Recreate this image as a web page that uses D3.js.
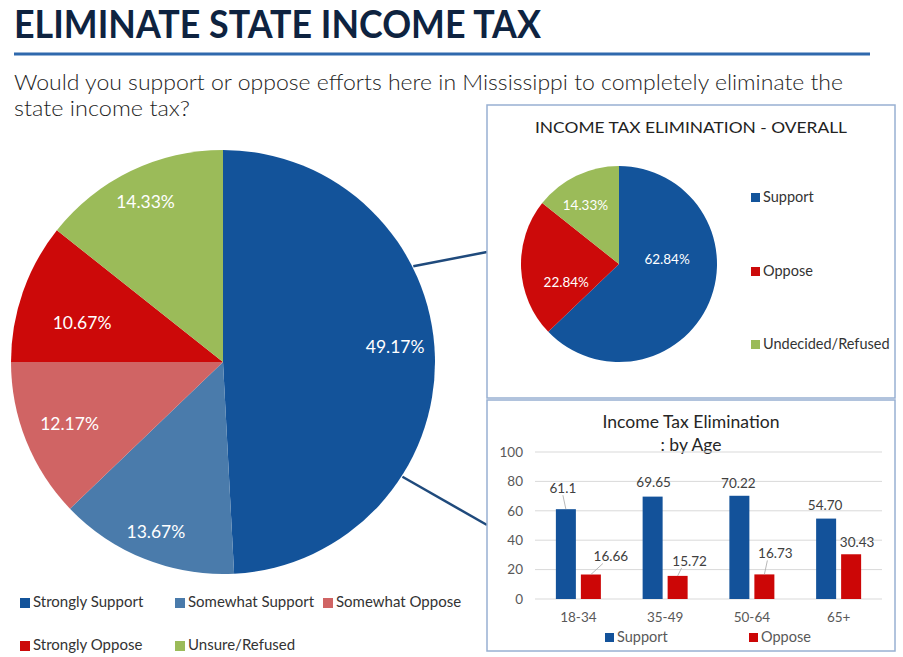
<!DOCTYPE html>
<html>
<head>
<meta charset="utf-8">
<script src="https://cdn.jsdelivr.net/npm/d3@7"></script>
<style>
  body { margin: 0; background: #fff; }
  svg { display: block; font-family: Lato, "Open Sans", sans-serif; }
</style>
</head>
<body>
<svg id="chart" width="903" height="657"></svg>
<script>
// main pie (5 answers)
var mainCats = ["Strongly Support", "Somewhat Support", "Somewhat Oppose", "Strongly Oppose", "Unsure/Refused"];
var mainValues = [49.17, 13.67, 12.17, 10.67, 14.33];
// overall pie
var overallCats = ["Support", "Oppose", "Undecided/Refused"];
var overallValues = [62.84, 22.84, 14.33];
// by age bars
var ageGroups = ["18-34", "35-49", "50-64", "65+"];
var supportByAge = [61.1, 69.65, 70.22, 54.70];
var opposeByAge = [16.66, 15.72, 16.73, 30.43];
var supportText = ["61.1", "69.65", "70.22", "54.70"];
var opposeText = ["16.66", "15.72", "16.73", "30.43"];
var yTicks = [0, 20, 40, 60, 80, 100];

var mainColors = ["#13539a", "#4a7bab", "#d06464", "#cc0909", "#9bbb59"];
var overallColors = ["#13549b", "#cc0a0a", "#9bbb59"];
var blue = "#13529a", red = "#cc0606";

var svg = d3.select("#chart");

// header
svg.append("text").attr("x", 14).attr("y", 38).attr("textLength", 527).attr("lengthAdjust", "spacingAndGlyphs")
   .style("font-size", "39px").style("font-weight", "bold").style("fill", "#0e2340").text("ELIMINATE STATE INCOME TAX");
svg.append("line").attr("x1", 14).attr("x2", 870).attr("y1", 54).attr("y2", 54).style("stroke", "#2f69ad").style("stroke-width", 3);
svg.append("text").attr("x", 14).attr("y", 90).attr("textLength", 829).attr("lengthAdjust", "spacingAndGlyphs")
   .style("font-size", "22px").style("font-weight", 300).style("fill", "#1e1e1e").text("Would you support or oppose efforts here in Mississippi to completely eliminate the");
svg.append("text").attr("x", 14).attr("y", 116).attr("textLength", 176).attr("lengthAdjust", "spacingAndGlyphs")
   .style("font-size", "22px").style("font-weight", 300).style("fill", "#1e1e1e").text("state income tax?");

// main pie
var cx = 223, cy = 362, R = 212;
var mainLabelR = [0.815, 0.86, 0.78, 0.69, 0.84];
var mainLabelTurn = [-3.5, 0, 0, -3.7, 0]; // degrees, label nudges
var pie = d3.pie().sort(null).value(function(d){return d});
var mainArcs = pie(mainValues);
var mainG = svg.append("g").attr("transform", "translate(" + cx + "," + cy + ")");
mainG.selectAll("path").data(mainArcs).enter().append("path")
     .attr("d", d3.arc().innerRadius(0).outerRadius(R))
     .style("fill", function(d,i){return mainColors[i]});
mainG.selectAll("text").data(mainArcs).enter().append("text")
     .attr("transform", function(d,i){
        var a = (d.startAngle + d.endAngle) / 2 + mainLabelTurn[i] * Math.PI / 180, r = R * mainLabelR[i];
        return "translate(" + (r * Math.sin(a)) + "," + (-r * Math.cos(a)) + ")";
     })
     .attr("text-anchor", "middle").attr("dy", "0.35em")
     .style("font-size", "17.5px").style("fill", "white")
     .text(function(d){return d.value.toFixed(2) + "%"});

// connector lines to the boxes
var conn = [[63.3, 487, 252], [122.6, 487, 525]];
conn.forEach(function(c){
  var a = c[0] * Math.PI / 180;
  svg.append("line").attr("x1", cx + (R + 1) * Math.sin(a)).attr("y1", cy - (R + 1) * Math.cos(a))
     .attr("x2", c[1]).attr("y2", c[2]).style("stroke", "#1f4a7c").style("stroke-width", 2.5);
});

// main legend
var legPos = [[20, 607], [175, 607], [323, 607], [20, 650], [175, 650]];
mainCats.forEach(function(c, i){
  svg.append("rect").attr("x", legPos[i][0]).attr("y", legPos[i][1] - 9).attr("width", 10).attr("height", 10).style("fill", mainColors[i]);
  svg.append("text").attr("x", legPos[i][0] + 13).attr("y", legPos[i][1]).style("font-size", "15px").style("fill", "#333").text(c);
});

// boxes
svg.append("rect").attr("x", 487).attr("y", 105).attr("width", 408).attr("height", 293)
   .style("fill", "white").style("stroke", "#98b0d2").style("stroke-width", 1.5);
svg.append("rect").attr("x", 487).attr("y", 400).attr("width", 408).attr("height", 251)
   .style("fill", "white").style("stroke", "#98b0d2").style("stroke-width", 1.5);

// overall pie
svg.append("text").attr("x", 691).attr("y", 133).attr("text-anchor", "middle").attr("textLength", 312).attr("lengthAdjust", "spacingAndGlyphs")
   .style("font-size", "15.5px").style("fill", "#222").text("INCOME TAX ELIMINATION - OVERALL");
var ocx = 619, ocy = 264, r2 = 98;
var ovArcs = pie(overallValues);
var ovNudge = [[-6, -28], [6, 16], [-8, -6]];
var ovG = svg.append("g").attr("transform", "translate(" + ocx + "," + ocy + ")");
ovG.selectAll("path").data(ovArcs).enter().append("path")
   .attr("d", d3.arc().innerRadius(0).outerRadius(r2))
   .style("fill", function(d,i){return overallColors[i]});
var ovLabelArc = d3.arc().innerRadius(r2 * 0.6).outerRadius(r2 * 0.6);
ovG.selectAll("text").data(ovArcs).enter().append("text")
   .attr("transform", function(d,i){
      var p = ovLabelArc.centroid(d);
      return "translate(" + (p[0] + ovNudge[i][0]) + "," + (p[1] + ovNudge[i][1]) + ")";
   })
   .attr("text-anchor", "middle").attr("dy", "0.35em")
   .style("font-size", "13.5px").style("fill", "white")
   .text(function(d){return d.value.toFixed(2) + "%"});
var ovLegY = [197, 271, 344];
overallCats.forEach(function(c, i){
  svg.append("rect").attr("x", 751).attr("y", ovLegY[i] - 4).attr("width", 9).attr("height", 9).style("fill", overallColors[i]);
  svg.append("text").attr("x", 763).attr("y", ovLegY[i]).attr("dy", "0.35em").style("font-size", "14.5px").style("fill", "#333").text(c);
});

// bars by age
svg.append("text").attr("x", 691).attr("y", 428).attr("text-anchor", "middle").attr("textLength", 177).attr("lengthAdjust", "spacingAndGlyphs")
   .style("font-size", "17.5px").style("fill", "#262626").text("Income Tax Elimination");
svg.append("text").attr("x", 691).attr("y", 451).attr("text-anchor", "middle")
   .style("font-size", "17.5px").style("fill", "#262626").text(": by Age");

var x = d3.scaleBand().domain(ageGroups).range([535, 882]);
var y = d3.scaleLinear().domain([0, 100]).range([599, 452]);

svg.append("g").selectAll("line").data(yTicks).enter().append("line")
   .attr("x1", 535).attr("x2", 882).attr("y1", function(d){return y(d)}).attr("y2", function(d){return y(d)})
   .style("stroke", "#d9d9d9").style("stroke-width", 1);

var yAxis = svg.append("g").attr("transform", "translate(535,0)")
   .call(d3.axisLeft(y).tickValues(yTicks).tickSize(0).tickPadding(12));
yAxis.select(".domain").remove();
yAxis.selectAll("text").style("font-size", "13.5px").style("fill", "#595959").style("font-family", "Lato, sans-serif");

var xAxis = svg.append("g").attr("transform", "translate(0,612)")
   .call(d3.axisBottom(x).tickSize(0).tickPadding(0));
xAxis.select(".domain").remove();
xAxis.selectAll("text").style("font-size", "13.5px").style("fill", "#595959").style("font-family", "Lato, sans-serif");

var bw = 20;
function cen(i){ return x(ageGroups[i]) + x.bandwidth() / 2; }

svg.append("g").selectAll("rect").data(supportByAge).enter().append("rect")
   .attr("x", function(d,i){return cen(i) - 22.5}).attr("width", bw)
   .attr("y", function(d){return y(d)}).attr("height", function(d){return y(0) - y(d)})
   .style("fill", blue);
svg.append("g").selectAll("rect").data(opposeByAge).enter().append("rect")
   .attr("x", function(d,i){return cen(i) + 2.5}).attr("width", bw)
   .attr("y", function(d){return y(d)}).attr("height", function(d){return y(0) - y(d)})
   .style("fill", red);

// data labels, nudged like the original
var supOff = [[-3, -21], [1, -14], [-1, -13], [-1, -13]];
var oppOff = [[20, -18], [12, -15], [11, -21], [6, -12]];
var supLeader = [true, false, false, false];
var oppLeader = [true, true, true, false];

function labels(vals, txt, off, leader, shift){
  vals.forEach(function(v, i){
    var bx = cen(i) + shift, by = y(v);
    var lx = bx + off[i][0], ly = by + off[i][1];
    if (leader[i]) {
      svg.append("line").attr("x1", bx).attr("y1", by).attr("x2", off[i][0] > 5 ? lx - 8 : lx).attr("y2", ly + 7)
         .style("stroke", "#a6a6a6").style("stroke-width", 0.8);
    }
    svg.append("text").attr("x", lx).attr("y", ly).attr("dy", "0.35em").attr("text-anchor", "middle")
       .style("font-size", "13.5px").style("fill", "#404040").text(txt[i]);
  });
}
labels(supportByAge, supportText, supOff, supLeader, -12.5);
labels(opposeByAge, opposeText, oppOff, oppLeader, 12.5);

// bar legend
svg.append("rect").attr("x", 605).attr("y", 633).attr("width", 9).attr("height", 9).style("fill", blue);
svg.append("text").attr("x", 617).attr("y", 642).style("font-size", "14.5px").style("fill", "#595959").text("Support");
svg.append("rect").attr("x", 749).attr("y", 633).attr("width", 9).attr("height", 9).style("fill", red);
svg.append("text").attr("x", 761).attr("y", 642).style("font-size", "14.5px").style("fill", "#595959").text("Oppose");
</script>
</body>
</html>
